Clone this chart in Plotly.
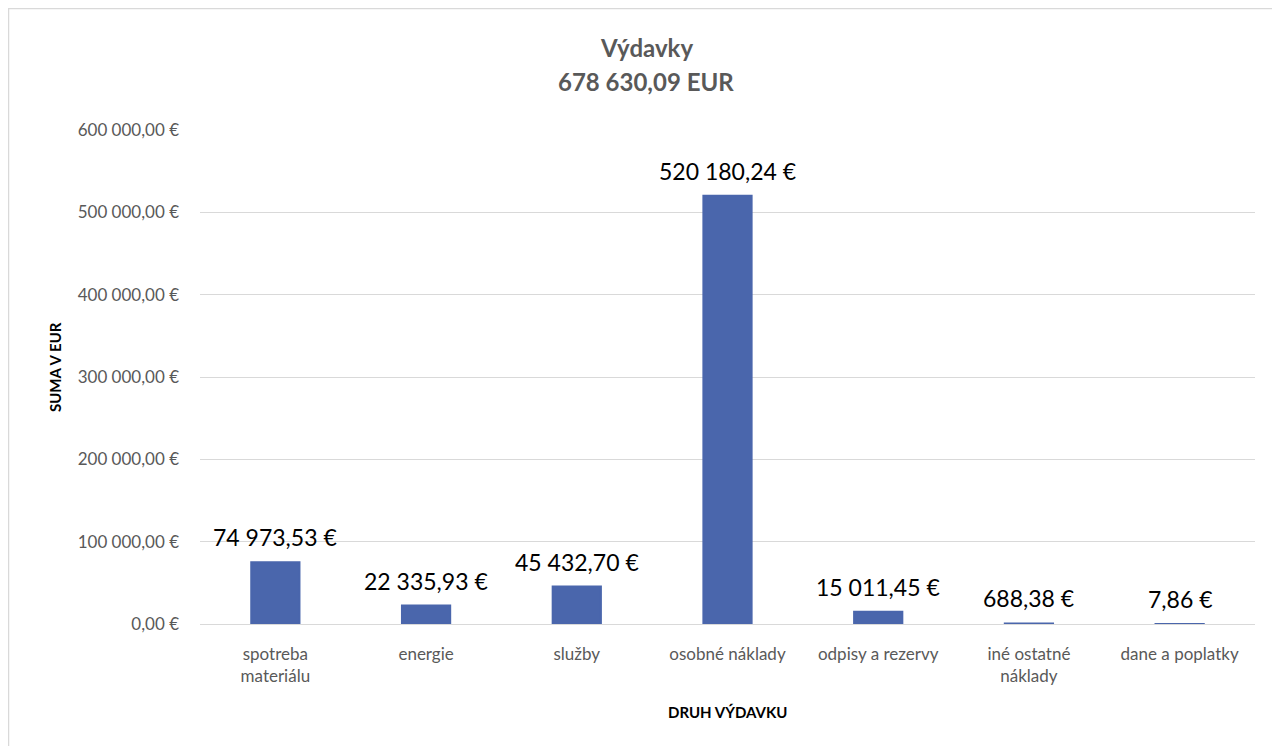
import plotly.graph_objects as go

categories = ["spotreba<br>materiálu", "energie", "služby", "osobné náklady",
              "odpisy a rezervy", "iné ostatné<br>náklady", "dane a poplatky"]
values = [74973.53, 22335.93, 45432.70, 520180.24, 15011.45, 688.38, 7.86]
value_labels = ["74 973,53 €", "22 335,93 €", "45 432,70 €", "520 180,24 €",
                "15 011,45 €", "688,38 €", "7,86 €"]
y_ticks = [0, 100000, 200000, 300000, 400000, 500000, 600000]
y_tick_labels = ["0,00 €", "100 000,00 €", "200 000,00 €", "300 000,00 €",
                 "400 000,00 €", "500 000,00 €", "600 000,00 €"]
title_lines = ["Výdavky", "678 630,09 EUR"]
x_title = "DRUH VÝDAVKU"
y_title = "SUMA V EUR"

FONT = "Lato"
GRAY = "#595959"
BAR = "#4A66AC"

# page offset of 8px (body margin), figure spans page 8..1280 x 8..746
OFF = 8
W, H = 1280 - OFF, 746 - OFF
PL, PR, PT, PB = 200, 1255, 130, 624  # plot area in page pixels
L, R, T, B = PL - OFF, 1280 - PR, PT - OFF, 746 - PB
pw, ph = PR - PL, PB - PT


def px_x(px):
    return (px - PL) / pw


def px_y(py):
    return (PB - py) / ph


fig = go.Figure()
fig.add_trace(go.Bar(
    x=categories, y=values,
    marker=dict(color=BAR, line=dict(color=BAR, width=2)),
    cliponaxis=False,
))

annotations = [
    dict(text="<b>%s</b>" % title_lines[0], x=px_x(646), y=px_y(47), xref="paper", yref="paper",
         showarrow=False, xanchor="center", yanchor="middle",
         font=dict(family=FONT, size=24, color=GRAY)),
    dict(text="<b>%s</b>" % title_lines[1], x=px_x(646), y=px_y(82), xref="paper", yref="paper",
         showarrow=False, xanchor="center", yanchor="middle",
         font=dict(family=FONT, size=24, color=GRAY)),
    dict(text="<b>%s</b>" % x_title, x=px_x(727), y=px_y(712), xref="paper", yref="paper",
         showarrow=False, xanchor="center", yanchor="middle",
         font=dict(family=FONT, size=15, color="#000000")),
    dict(text="<b>%s</b>" % y_title, x=px_x(55), y=px_y(367), xref="paper", yref="paper",
         showarrow=False, xanchor="center", yanchor="middle", textangle=-90,
         font=dict(family=FONT, size=15, color="#000000")),
]
for c, v, t in zip(categories, values, value_labels):
    annotations.append(dict(
        text=t, x=c, y=v, xref="x", yref="y", showarrow=False,
        xanchor="center", yanchor="bottom", yshift=9,
        font=dict(family=FONT, size=23, color="#000000"),
    ))

fig.update_layout(
    width=W, height=H,
    margin=dict(l=L, r=R, t=T, b=B),
    paper_bgcolor="white", plot_bgcolor="white",
    bargap=0.68,
    showlegend=False,
    font=dict(family=FONT, color=GRAY),
    xaxis=dict(
        showgrid=False, showline=False, zeroline=False,
        tickfont=dict(family=FONT, size=17, color=GRAY),
        ticklabelstandoff=18,
    ),
    yaxis=dict(
        range=[0, 600000], tickvals=y_ticks, ticktext=y_tick_labels,
        showgrid=True, gridcolor="#D9D9D9", gridwidth=1.3,
        zeroline=True, zerolinecolor="#D9D9D9", zerolinewidth=1.3,
        showline=False,
        tickfont=dict(family=FONT, size=17, color=GRAY),
        ticklabelstandoff=20,
    ),
    annotations=annotations,
    shapes=[dict(type="rect", xref="paper", yref="paper",
                 x0=px_x(8.5), x1=px_x(1300), y0=px_y(770), y1=px_y(8.5),
                 line=dict(color="#D9D9D9", width=1.5), layer="below")],
)

fig.write_html("out.html")
